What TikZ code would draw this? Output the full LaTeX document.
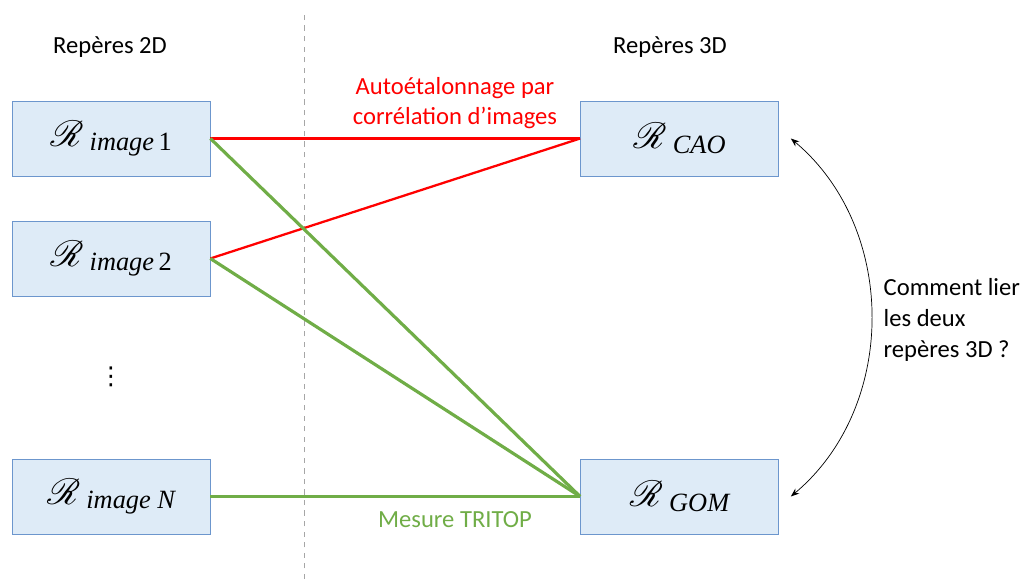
\documentclass[tikz,border=0pt]{standalone}
\usepackage{amsmath}
\usepackage{mathrsfs}
\usepackage{fontspec}
\setmainfont{Carlito}
\newfontfamily\camb{Liberation Serif}
\newfontfamily\djv{DejaVu Sans}
\usepackage{xcolor}
\usepackage{tikz}
\usetikzlibrary{positioning, arrows.meta}

\definecolor{boxfill}{RGB}{222,235,247}
\definecolor{boxline}{RGB}{108,150,205}
\definecolor{tritop}{RGB}{112,173,71}

\newcommand{\rep}[2]{{\fontsize{20}{22}\selectfont$\mathscr{R}$}\hspace{0.35em}\raisebox{-0.55ex}{\camb\fontsize{15}{18}\selectfont\itshape #1\upshape#2}}

\begin{document}
\begin{tikzpicture}[
  repere/.style={draw=boxline, fill=boxfill, minimum width=3.96cm, minimum height=1.5cm},
  lbl/.style={font=\fontsize{14}{17.5}\selectfont},
  dic/.style={red, line width=1.3pt},
  tri/.style={tritop, line width=1.8pt}
]
\useasboundingbox (0,0) rectangle (20.46,11.58);
\draw[gray!70, dashed] (6.08,0) -- (6.08,11.34);
\node[lbl] (t2d) at (2.2,10.64) {Repères 2D};
\node[lbl] (t3d) at (13.4,10.64) {Repères 3D};
\node[repere] (img1) at (2.22,8.81) {\rep{image}{\,1}};
\node[repere] (img2) at (2.22,6.41) {\rep{image}{\,2}};
\node[lbl] (dots) at (2.22,4.04) {\djv ⋮};
\node[repere] (imgN) at (2.22,1.65) {\rep{image N}{}};
\node[repere] (cao) at (13.59,8.81) {\rep{CAO}{}};
\node[repere] (gom) at (13.59,1.65) {\rep{GOM}{}};
% liens
\draw[dic] (img1.east) -- (cao.west);
\draw[dic] (img2.east) -- (cao.west);
\draw[tri] (img1.east) -- (gom.west);
\draw[tri] (img2.east) -- (gom.west);
\draw[tri] (imgN.east) -- (gom.west);
\node[lbl, red, align=center] (auto) at (9.1,9.52) {Autoétalonnage par\\corrélation d’images};
\node[lbl, tritop] (mes) at (9.1,1.18) {Mesure TRITOP};
\draw[{Stealth}-{Stealth}, thin] ([xshift=0.24cm]cao.east) to[bend left=50] ([xshift=0.24cm]gom.east);
\node[lbl, align=left, anchor=west] (lier) at (17.55,5.18) {Comment lier\\les deux\\repères 3D ?};
\end{tikzpicture}
\end{document}
